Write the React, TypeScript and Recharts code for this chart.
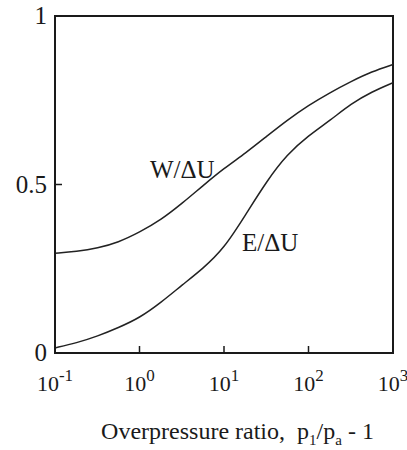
import React from 'react';
import { LineChart, Line, XAxis, YAxis, ReferenceArea, ReferenceDot } from 'recharts';

const xValues = [0.1, 0.18, 0.32, 0.56, 1, 1.8, 3.2, 5.6, 10, 18, 32, 56, 100, 180, 320, 560, 1000];
const wValues = [0.296, 0.301, 0.311, 0.328, 0.358, 0.395, 0.444, 0.496, 0.548, 0.593, 0.643, 0.691, 0.735, 0.773, 0.806, 0.835, 0.856];
const eValues = [0.015, 0.03, 0.05, 0.075, 0.104, 0.15, 0.202, 0.25, 0.31, 0.41, 0.51, 0.59, 0.645, 0.69, 0.74, 0.775, 0.802];
const xTicks = [0.1, 1, 10, 100, 1000];
const yTicks = [0, 0.5, 1];
const yTickLabels = ['0', '0.5', '1'];
const wLabel = { x: 1.33, y: 0.519, text: 'W/ΔU' };
const eLabel = { x: 16.3, y: 0.303, text: 'E/ΔU' };

const data = xValues.map((x, i) => ({ x, w: wValues[i], e: eValues[i] }));

const FONT = '"Liberation Serif", "Times New Roman", serif';
const INK = '#1a1a1a';

const XTick = (props: any) => {
  const { x, y, payload } = props;
  const exp = Math.round(Math.log10(payload.value));
  return (
    <g>
      <line x1={x} y1={y} x2={x} y2={y - 7} stroke={INK} strokeWidth={1.5} />
      <text x={x} y={y + 38} textAnchor="middle" fontFamily={FONT} fontSize={22} fill={INK}>
        10<tspan dy={-10} fontSize={17}>{exp}</tspan>
      </text>
    </g>
  );
};

const YTick = (props: any) => {
  const { x, y, payload, index } = props;
  return (
    <g>
      <line x1={x} y1={y} x2={x + 7} y2={y} stroke={INK} strokeWidth={1.5} />
      <text x={x - 8} y={y + 8} textAnchor="end" fontFamily={FONT} fontSize={25} fill={INK}>
        {yTickLabels[index] ?? String(payload.value)}
      </text>
    </g>
  );
};

const textShape = (label: string) => (p: any) => (
  <text x={p.cx} y={p.cy} fontFamily={FONT} fontSize={25} fill={INK}>
    {label}
  </text>
);

export default function App() {
  return (
    <div style={{ position: 'absolute', left: 0, top: 0, width: 407, height: 450, background: '#fff' }}>
      <LineChart width={407} height={450} data={data} margin={{ top: 16, right: 14, left: 0, bottom: 0 }}>
        <XAxis
          dataKey="x"
          type="number"
          scale="log"
          domain={[0.1, 1000]}
          ticks={xTicks}
          allowDataOverflow
          height={97}
          tickSize={0}
          tickMargin={0}
          tickLine={false}
          axisLine={{ stroke: INK, strokeWidth: 2 }}
          tick={<XTick />}
          interval={0}
        />
        <YAxis
          type="number"
          domain={[0, 1]}
          ticks={yTicks}
          width={55}
          tickSize={0}
          tickMargin={0}
          tickLine={false}
          axisLine={{ stroke: INK, strokeWidth: 2 }}
          tick={<YTick />}
          interval={0}
        />
        <ReferenceArea x1={0.1} x2={1000} y1={0} y2={1} fill="none" stroke={INK} strokeWidth={2} />
        <Line dataKey="w" type="basis" stroke="#222" strokeWidth={1.5} dot={false} isAnimationActive={false} />
        <Line dataKey="e" type="basis" stroke="#222" strokeWidth={1.5} dot={false} isAnimationActive={false} />
        <ReferenceDot x={wLabel.x} y={wLabel.y} r={0} shape={textShape(wLabel.text)} />
        <ReferenceDot x={eLabel.x} y={eLabel.y} r={0} shape={textShape(eLabel.text)} />
      </LineChart>
      <div
        style={{
          position: 'absolute',
          left: 0,
          top: 418,
          width: 475,
          textAlign: 'center',
          fontFamily: FONT,
          fontSize: 24,
          color: INK,
          whiteSpace: 'pre',
        }}
      >
        Overpressure ratio,{'  '}p<sub style={{ fontSize: 15 }}>1</sub>/p<sub style={{ fontSize: 15 }}>a</sub> - 1
      </div>
    </div>
  );
}
